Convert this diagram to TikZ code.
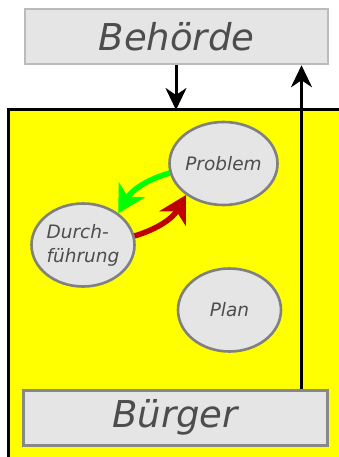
\documentclass[tikz,border=0pt]{standalone}
\usepackage{fontspec}
\setmainfont{DejaVu Sans}
\usetikzlibrary{shapes.geometric,arrows.meta}
\definecolor{boxfill}{RGB}{229,229,229}
\definecolor{labelgray}{RGB}{77,77,77}
\definecolor{ringgray}{RGB}{128,128,128}
\definecolor{lightedge}{RGB}{187,187,187}
\definecolor{darkedge}{RGB}{136,136,136}
\definecolor{goodgreen}{RGB}{0,255,0}
\definecolor{badred}{RGB}{190,0,0}
\definecolor{framefill}{RGB}{255,255,0}
\tikzset{
  bigbox/.style={rectangle, fill=boxfill, minimum height=55pt, inner sep=0pt,
    text=labelgray, font=\fontsize{37}{40}\selectfont\itshape},
  phase/.style={ellipse, fill=boxfill, draw=ringgray, line width=2.6pt,
    minimum width=103pt, minimum height=83pt, inner sep=0pt,
    text=labelgray, font=\fontsize{18.5}{24}\selectfont\itshape},
  flow/.style={line width=3pt, -{Stealth[length=22pt,width=21pt,inset=7pt]}},
  loopflow/.style={line width=5.5pt, -{Stealth[length=27pt,width=30pt,inset=8pt]}}
}
\begin{document}
\begin{tikzpicture}[x=1pt,y=-1pt]
\useasboundingbox (0,0) rectangle (339,457);
\fill[white] (0,0) rectangle (339,457);
% the community frame, running off the right and bottom edges
\draw[line width=3pt, fill=framefill] (8.7,110) rectangle (360,480);
\coordinate (frametop) at (176,110);
\coordinate (upx) at (301.5,0);

\node[bigbox, draw=lightedge, line width=2.5pt, minimum width=303pt] (beh) at (176.5,36.5) {Behörde};
\node[bigbox, draw=darkedge, line width=3pt, minimum width=304pt] (bur) at (175,417.5) {Bürger};

\node[phase] (prob) at (223.5,163.5) {Problem};
\node[phase, align=left] (durch) at (83,245) {Durch-\\führung};
\node[phase] (plan) at (229.5,310) {Plan};

\draw[flow] (beh.south -| frametop) -- (frametop);
\draw[flow] (bur.north -| upx) -- (beh.south -| upx);

\draw[loopflow, goodgreen] (prob.190) to[bend right=22] (durch.42);
\draw[loopflow, badred] (durch.10) to[bend right=22] (prob.220);
\end{tikzpicture}
\end{document}
